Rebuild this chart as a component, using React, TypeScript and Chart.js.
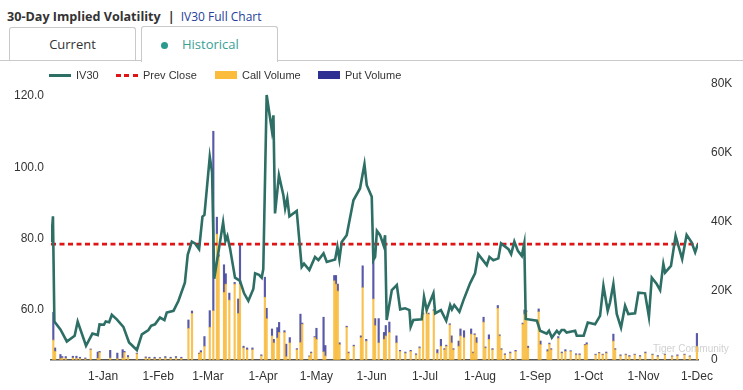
import React, { useEffect, useRef } from 'react';
import { Chart, registerables } from 'chart.js';

Chart.register(...registerables);

// x values are day offsets from 1-Jan
const monthTickDays = [0, 31, 59, 90, 120, 151, 181, 212, 243, 273, 304, 334];
const monthTickLabels = ['1-Jan', '1-Feb', '1-Mar', '1-Apr', '1-May', '1-Jun', '1-Jul', '1-Aug', '1-Sep', '1-Oct', '1-Nov', '1-Dec'];
const leftTicks = [60, 80, 100, 120];
const rightTicks = [0, 20, 40, 60, 80]; // thousands
const prevClose = 78.5;
const xMin = -29.3;
const xMax = 334.6;

const ivDay = [
  -29.2, -28.2, -27.4, -24.0, -20.4, -16.0, -14.3, -9.6, -6.0, -3.0, -2.0, 0.5, 1.5, 3.4, 4.9, 7.7, 11.4, 14.6, 19.0, 21.8,
  25.5, 27.0, 29.2, 32.0, 34.5, 35.8, 39.6, 42.4, 46.0, 47.6, 49.9, 51.7, 54.0, 55.9, 57.0, 60.0, 61.3, 62.5, 67.5, 68.8,
  69.9, 71.4, 74.2, 77.0, 79.3, 81.7, 84.5, 85.5, 87.7, 89.2, 90.1, 92.0, 94.9, 95.8, 96.7, 98.9, 101.4, 102.4, 103.6, 104.8,
  108.9, 111.7, 113.0, 116.0, 119.2, 121.1, 124.0, 125.8, 130.5, 131.8, 132.9, 134.2, 137.0, 140.8, 144.5, 147.0, 148.3, 151.1, 152.0, 153.0,
  154.0, 155.8, 157.7, 158.6, 159.5, 162.4, 165.2, 167.1, 169.9, 172.3, 173.0, 174.5, 179.2, 180.5, 182.0, 185.8, 186.8, 190.0, 193.0, 195.2,
  196.2, 197.5, 200.4, 202.7, 206.4, 209.2, 211.0, 215.8, 217.3, 219.5, 222.3, 223.8, 228.0, 229.5, 231.3, 233.3, 235.5, 236.9, 237.7, 244.0,
  245.8, 249.5, 250.8, 252.4, 255.2, 256.5, 257.9, 259.4, 260.7, 265.5, 266.4, 270.3, 272.6, 276.7, 279.5, 281.4, 283.8, 285.1, 287.0, 288.9,
  291.3, 293.6, 295.4, 299.2, 301.1, 304.8, 307.0, 308.6, 311.4, 313.3, 315.1, 316.1, 319.4, 322.0, 325.7, 328.2, 331.0, 333.0, 334.5,
];
const ivValue = [
  79.0, 86.3, 56.8, 54.6, 51.2, 52.8, 56.8, 50.0, 53.4, 53.0, 56.0, 55.9, 56.8, 56.6, 58.7, 57.4, 55.3, 50.9, 48.8, 53.2,
  54.4, 55.6, 56.0, 57.9, 57.2, 59.3, 59.8, 62.6, 67.7, 75.5, 79.2, 78.7, 77.1, 86.2, 86.7, 103.0, 98.6, 68.8, 84.6, 79.4,
  80.8, 77.3, 69.1, 68.2, 64.7, 62.6, 65.9, 70.3, 69.9, 69.1, 71.5, 120.3, 110.5, 114.6, 87.1, 97.8, 92.2, 88.5, 91.3, 86.3,
  87.8, 72.1, 73.0, 71.2, 74.9, 74.0, 75.9, 73.5, 74.2, 77.7, 74.2, 79.1, 81.0, 90.8, 94.1, 100.9, 95.0, 91.8, 74.0, 74.9,
  82.2, 81.0, 78.2, 81.0, 57.2, 65.6, 67.0, 60.2, 60.5, 60.0, 55.3, 57.2, 57.4, 63.7, 60.0, 64.7, 59.1, 60.0, 57.0, 61.4,
  60.2, 61.4, 59.5, 62.8, 67.5, 70.3, 75.7, 72.6, 74.9, 74.0, 74.5, 78.7, 77.1, 75.7, 79.2, 76.6, 75.2, 78.7, 57.5, 57.0,
  54.2, 53.4, 54.2, 52.3, 54.2, 53.4, 54.4, 54.4, 53.7, 54.2, 52.8, 52.8, 56.5, 56.0, 58.4, 66.8, 59.8, 62.1, 67.3, 58.9,
  55.1, 61.2, 58.9, 59.1, 64.9, 64.7, 58.1, 69.1, 67.3, 65.6, 72.9, 70.5, 72.4, 80.8, 74.3, 81.1, 79.0, 76.2, 78.5,
];

const volDay = [
  -28, -27, -24, -23, -21, -17, -15, -13, -10, -7, -3, -2, 4, 8, 11, 12, 14, 19, 24, 26,
  29, 32, 35, 38, 41, 44, 48, 50, 54, 55, 57, 60, 62, 64, 65, 68, 69, 71, 74, 76,
  77, 79, 81, 84, 89, 91, 92, 95, 96, 98, 99, 102, 103, 105, 109, 111, 112, 116, 117, 119,
  120, 124, 125, 130, 131, 132, 133, 137, 138, 141, 145, 146, 148, 152, 153, 155, 158, 159, 161, 165,
  167, 170, 173, 176, 178, 180, 182, 183, 186, 188, 190, 192, 193, 195, 196, 197, 200, 201, 203, 207,
  208, 209, 210, 214, 215, 217, 219, 222, 223, 224, 226, 229, 232, 236, 237, 238, 239, 245, 246, 250,
  251, 252, 256, 258, 260, 263, 266, 268, 271, 272, 277, 279, 281, 283, 287, 288, 291, 294, 296, 299,
  302, 305, 309, 312, 316, 320, 323, 327, 330, 334,
];
const callVol = [
  5.8, 2.5, 0.4, 0.6, 0.5, 0.6, 0.5, 0.4, 0.3, 3.0, 0.5, 2.2, 0.6, 0.4, 0.6, 2.2, 0.8, 1.8, 0.6, 0.5,
  0.4, 0.5, 0.6, 0.5, 0.6, 0.5, 9.2, 13.5, 1.8, 2.2, 4.0, 9.5, 14.3, 36.5, 30.0, 19.6, 22.0, 17.4, 22.0, 13.5,
  22.0, 3.5, 3.0, 3.0, 1.2, 18.2, 12.0, 7.0, 5.0, 6.4, 8.0, 8.0, 1.0, 5.0, 3.0, 5.1, 10.4, 1.0, 2.0, 6.6,
  6.0, 2.4, 1.2, 23.0, 22.0, 20.0, 4.5, 9.5, 2.0, 4.0, 6.5, 21.0, 5.5, 17.7, 10.0, 5.0, 6.0, 7.0, 8.0, 5.0,
  2.5, 2.0, 2.5, 1.5, 3.5, 13.3, 15.3, 13.3, 14.3, 2.0, 4.0, 3.0, 4.0, 10.2, 5.0, 3.0, 4.0, 7.0, 6.5, 7.5,
  2.0, 7.3, 5.0, 11.0, 3.5, 6.0, 3.0, 15.0, 7.0, 3.0, 1.5, 2.0, 2.5, 10.4, 13.3, 14.0, 3.5, 14.0, 4.5, 2.5,
  4.6, 3.0, 6.3, 2.0, 2.5, 2.5, 1.5, 1.5, 4.3, 4.5, 1.5, 2.0, 1.5, 2.0, 5.5, 3.0, 1.2, 1.5, 1.0, 1.5,
  1.0, 2.0, 1.5, 1.0, 1.5, 1.0, 1.2, 1.5, 1.0, 4.0,
];
const putVol = [
  8.0, 1.0, 1.2, 0.4, 0.5, 0.5, 0.6, 0.4, 0.3, 0.2, 1.8, 0.3, 2.2, 1.6, 2.4, 0.3, 0.5, 0.2, 0.3, 0.3,
  0.4, 0.2, 0.4, 0.3, 0.4, 0.3, 2.4, 0.7, 0.2, 0.5, 2.8, 4.8, 52.0, 4.9, 0.5, 8.0, 3.0, 2.0, 0.5, 4.2,
  11.6, 0.5, 0.5, 0.5, 0.3, 5.8, 3.0, 2.0, 1.0, 3.0, 2.9, 0.5, 3.6, 1.5, 0.3, 8.2, 0.3, 0.2, 0.3, 0.2,
  3.2, 10.0, 3.0, 1.5, 2.5, 2.0, 0.5, 0.3, 0.3, 0.3, 0.5, 6.3, 0.5, 11.0, 2.0, 7.0, 2.0, 3.0, 3.0, 2.0,
  0.3, 0.3, 0.3, 0.3, 0.3, 0.3, 0.3, 0.3, 0.3, 1.0, 2.0, 0.3, 0.3, 0.3, 2.0, 0.3, 1.5, 2.0, 2.0, 1.5,
  0.3, 0.3, 1.5, 1.4, 0.3, 1.3, 0.3, 0.8, 0.3, 0.3, 0.3, 0.3, 0.3, 0.3, 1.2, 0.3, 0.5, 0.8, 1.0, 0.5,
  0.3, 0.3, 0.5, 0.3, 0.5, 0.2, 0.3, 0.3, 0.2, 0.5, 0.2, 0.2, 0.2, 0.3, 2.0, 0.3, 0.3, 0.2, 0.3, 0.2,
  0.3, 0.3, 0.2, 0.3, 0.2, 0.2, 0.3, 0.2, 0.2, 3.7,
];

const TEAL = '#2d6e65';
const RED = '#e01414';
const CALL = 'rgba(248,180,40,0.8)';
const CALL_SOLID = '#fbbb3b';
const PUT = 'rgba(46,49,146,0.8)';
const PUT_SOLID = '#2e3192';
const AXIS_FONT = '"Liberation Sans", Arial, sans-serif';

function ChartCanvas() {
  const ref = useRef<HTMLCanvasElement | null>(null);
  useEffect(() => {
    if (!ref.current) return;
    const chart = new Chart(ref.current, {
      type: 'bar',
      data: {
        datasets: [
          {
            type: 'line',
            label: 'IV30',
            data: ivDay.map((d, i) => ({ x: d, y: ivValue[i] })),
            yAxisID: 'y',
            borderColor: TEAL,
            borderWidth: 2.6,
            pointRadius: 0,
            tension: 0,
            order: 0,
          } as any,
          {
            type: 'line',
            label: 'Prev Close',
            data: [
              { x: xMin, y: prevClose },
              { x: xMax, y: prevClose },
            ],
            yAxisID: 'y',
            borderColor: RED,
            borderWidth: 2.6,
            borderDash: [5, 3.5],
            pointRadius: 0,
            order: 1,
          } as any,
          {
            type: 'bar',
            label: 'Call Volume',
            data: volDay.map((d, i) => ({ x: d, y: callVol[i] })),
            yAxisID: 'y1',
            backgroundColor: CALL,
            barThickness: 1.5,
            stack: 'vol',
            order: 2,
          } as any,
          {
            type: 'bar',
            label: 'Put Volume',
            data: volDay.map((d, i) => ({ x: d, y: putVol[i] })),
            yAxisID: 'y1',
            backgroundColor: PUT,
            barThickness: 1.5,
            stack: 'vol',
            order: 2,
          } as any,
        ],
      },
      options: {
        animation: false,
        responsive: true,
        maintainAspectRatio: false,
        layout: { padding: { top: 24, left: 0, right: 0, bottom: 0 } },
        plugins: { legend: { display: false }, tooltip: { enabled: false } },
        scales: {
          x: {
            type: 'linear',
            min: xMin,
            max: xMax,
            offset: false,
            stacked: true,
            grid: { display: false, drawTicks: false },
            border: { display: true, color: '#555', width: 1.5 },
            ticks: {
              autoSkip: false,
              maxRotation: 0,
              padding: 9,
              color: '#333',
              font: { family: AXIS_FONT, size: 12 },
              callback: (v: any) => {
                const idx = monthTickDays.indexOf(Number(v));
                return idx >= 0 ? monthTickLabels[idx] : '';
              },
            },
            afterBuildTicks: (s: any) => {
              s.ticks = monthTickDays.map((v) => ({ value: v }));
            },
            afterFit: (s: any) => {
              s.height = 30;
            },
          },
          y: {
            type: 'linear',
            position: 'left',
            min: 46,
            max: 123.4,
            stacked: false,
            grid: { display: false, drawTicks: false },
            border: { display: false },
            ticks: {
              padding: 7,
              color: '#333',
              font: { family: AXIS_FONT, size: 12 },
              callback: (v: any) => Number(v).toFixed(1),
            },
            afterBuildTicks: (s: any) => {
              s.ticks = leftTicks.map((v) => ({ value: v }));
            },
            afterFit: (s: any) => {
              s.width = 51;
            },
          },
          y1: {
            type: 'linear',
            position: 'right',
            min: 0,
            max: 80,
            stacked: true,
            grid: { display: false, drawTicks: false },
            border: { display: false },
            ticks: {
              padding: 13,
              color: '#333',
              font: { family: AXIS_FONT, size: 12 },
              callback: (v: any) => (Number(v) === 0 ? '0' : `${v}K`),
            },
            afterBuildTicks: (s: any) => {
              s.ticks = rightTicks.map((v) => ({ value: v }));
            },
            afterFit: (s: any) => {
              s.width = 45;
            },
          },
        },
      } as any,
    });
    return () => chart.destroy();
  }, []);
  return <canvas ref={ref} />;
}

const legendText: React.CSSProperties = {
  position: 'absolute',
  top: 68,
  height: 14,
  lineHeight: '14px',
  fontSize: 11,
  fontFamily: AXIS_FONT,
  color: '#333',
  whiteSpace: 'nowrap',
};

export default function App() {
  return (
    <div
      style={{
        position: 'absolute',
        left: 0,
        top: 0,
        width: 743,
        height: 390,
        background: '#fff',
        overflow: 'hidden',
        fontFamily: '"Open Sans", Arial, sans-serif',
      }}
    >
      {/* Title */}
      <div style={{ position: 'absolute', left: 7, top: 5, height: 20, lineHeight: '20px', whiteSpace: 'nowrap', color: '#333' }}>
        <span style={{ fontWeight: 700, fontSize: 12.6 }}>30-Day Implied Volatility</span>
        <span style={{ fontWeight: 700, fontSize: 12.6, margin: '0 6px 0 7px' }}>|</span>
        <span style={{ fontSize: 12, color: '#24409a' }}>IV30 Full Chart</span>
      </div>

      {/* Tabs */}
      <div style={{ position: 'absolute', left: 0, top: 60, width: 142, height: 1, background: '#c9c9c9' }} />
      <div style={{ position: 'absolute', left: 278, top: 60, width: 465, height: 1, background: '#c9c9c9' }} />
      <div
        style={{
          position: 'absolute',
          left: 9,
          top: 27,
          width: 125,
          height: 33,
          border: '1px solid #c9c9c9',
          borderBottom: 'none',
          borderRadius: '3px 3px 0 0',
          boxSizing: 'content-box',
          textAlign: 'center',
          lineHeight: '33px',
          fontSize: 13,
          color: '#333',
        }}
      >
        Current
      </div>
      <div
        style={{
          position: 'absolute',
          left: 141,
          top: 26,
          width: 135,
          height: 35,
          border: '1px solid #c9c9c9',
          borderBottom: 'none',
          borderRadius: '3px 3px 0 0',
          background: '#fff',
          fontSize: 13,
          color: '#3aa095',
        }}
      >
        <span
          style={{
            position: 'absolute',
            left: 19,
            top: 15,
            width: 7,
            height: 7,
            borderRadius: '50%',
            background: '#2a9a8e',
          }}
        />
        <span style={{ position: 'absolute', left: 40, top: 7, lineHeight: '20px' }}>Historical</span>
      </div>

      {/* Chart */}
      <div style={{ position: 'absolute', left: 0, top: 60, width: 743, height: 330 }}>
        <ChartCanvas />
      </div>

      {/* Legend */}
      <div style={{ position: 'absolute', left: 49, top: 74, width: 22, height: 2.6, background: TEAL }} />
      <div style={{ ...legendText, left: 76 }}>IV30</div>
      <div
        style={{
          position: 'absolute',
          left: 116,
          top: 74,
          width: 22,
          height: 2.6,
          background: `repeating-linear-gradient(to right, ${RED} 0px, ${RED} 5px, transparent 5px, transparent 8.5px)`,
        }}
      />
      <div style={{ ...legendText, left: 143 }}>Prev Close</div>
      <div style={{ position: 'absolute', left: 215, top: 71, width: 22, height: 8, background: CALL_SOLID }} />
      <div style={{ ...legendText, left: 242 }}>Call Volume</div>
      <div style={{ position: 'absolute', left: 318, top: 71, width: 22, height: 8, background: PUT_SOLID }} />
      <div style={{ ...legendText, left: 345 }}>Put Volume</div>

      {/* Watermark */}
      <div
        style={{
          position: 'absolute',
          left: 653,
          top: 343,
          fontSize: 10,
          fontFamily: AXIS_FONT,
          color: 'rgba(150,150,150,0.45)',
          whiteSpace: 'nowrap',
          pointerEvents: 'none',
        }}
      >
        Tiger Community
      </div>
    </div>
  );
}
